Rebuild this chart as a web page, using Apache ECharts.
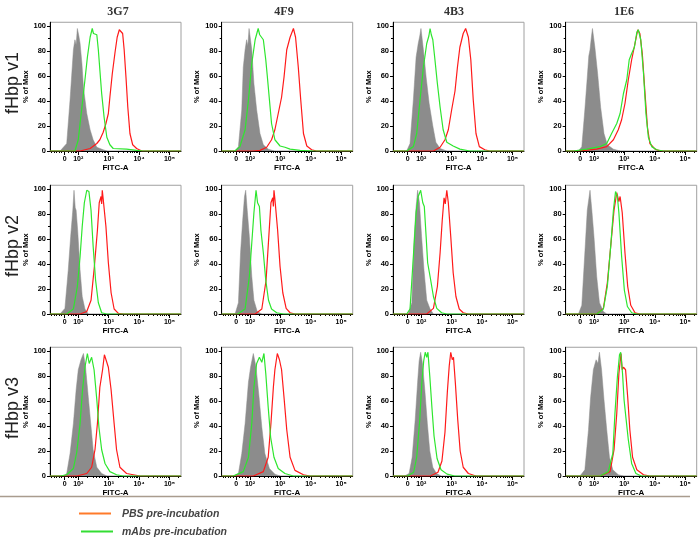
<!DOCTYPE html>
<html>
<head>
<meta charset="utf-8">
<script src="https://cdn.jsdelivr.net/npm/echarts@6/dist/echarts.min.js"></script>
<style>html,body{margin:0;padding:0;background:#fff}#c{width:698px;height:537px}</style>
</head>
<body>
<div id="c"></div>
<script>
// ---- Data (x in display decades: 0 at 1.55, 10^2 at 2, 10^3 at 3 ...; y in % of Max) ----
const columns = ['3G7', '4F9', '4B3', '1E6'];
const rows = ['fHbp v1', 'fHbp v2', 'fHbp v3'];
const xTickValues = [1.55, 2, 3, 4, 5];
const xTickLabels = ['0', '10²', '10³', '10⁴', '10⁵'];
const xMinorTicks = [1.12, 1.2, 1.28, 1.36, 1.44, 1.66, 1.76, 1.84, 1.9, 1.95,
  2.301, 2.477, 2.602, 2.699, 2.778, 2.845, 2.903, 2.954,
  3.301, 3.477, 3.602, 3.699, 3.778, 3.845, 3.903, 3.954,
  4.301, 4.477, 4.602, 4.699, 4.778, 4.845, 4.903, 4.954, 5.301];
const yTickValues = [0, 20, 40, 60, 80, 100];
const yMinorTicks = [10, 30, 50, 70, 90];
const legendLabels = ['PBS pre-incubation', 'mAbs pre-incubation'];

// fHbp v1
const gray_v1_3G7 = [[1.40,0],[1.62,6],[1.73,41],[1.84,81],[1.89,89],[1.93,85],[1.97,98],[2.02,92],[2.06,86],[2.12,70],[2.17,51],[2.28,30],[2.39,17],[2.49,9],[2.61,3],[2.82,1],[2.95,0]];
const green_v1_3G7 = [[1.89,0],[2.00,9],[2.11,33],[2.22,57],[2.30,75],[2.39,91],[2.44,96],[2.46,98],[2.50,94],[2.55,95],[2.61,93],[2.66,81],[2.71,65],[2.77,46],[2.85,27],[2.94,11],[3.04,5],[3.15,2],[3.59,1.5],[3.92,0.5],[4.14,0]];
const red_v1_3G7 = [[2.06,0],[2.39,2],[2.61,6],[2.71,9],[2.82,15],[2.91,22],[2.99,30],[3.04,43],[3.12,62],[3.21,79],[3.28,91],[3.35,97],[3.41,98],[3.46,94],[3.51,81],[3.57,59],[3.63,35],[3.70,14],[3.79,5],[3.92,2],[4.09,0]];
const gray_v1_4F9 = [[1.51,0],[1.62,3.5],[1.73,33],[1.78,67],[1.84,81],[1.89,89],[1.93,84],[1.97,98],[2.06,81],[2.13,54],[2.22,33],[2.33,14],[2.44,5],[2.60,1.5],[2.80,0]];
const green_v1_4F9 = [[1.50,0],[1.67,3.5],[1.84,17],[1.95,41],[2.06,70],[2.17,89],[2.27,98],[2.32,93],[2.36,92],[2.44,89],[2.52,73],[2.57,60],[2.64,41],[2.71,22],[2.82,9],[2.99,4],[3.15,3],[3.32,1.5],[3.65,0.5],[4.08,0]];
const red_v1_4F9 = [[2.10,0],[2.33,0.5],[2.55,3],[2.71,9],[2.82,17],[2.93,30],[3.04,43],[3.12,59],[3.21,81],[3.32,91],[3.43,98],[3.50,91],[3.59,67],[3.67,41],[3.76,14],[3.87,4],[4.03,1],[4.19,0]];
const gray_v1_4B3 = [[1.52,0],[1.63,6],[1.74,41],[1.83,75],[1.90,86],[1.95,92],[1.99,98],[2.07,81],[2.16,59],[2.26,38],[2.38,20],[2.48,7],[2.62,2],[2.84,0]];
const green_v1_4B3 = [[1.52,0],[1.74,3.5],[1.85,14],[1.96,41],[2.07,67],[2.18,86],[2.25,92],[2.29,98],[2.33,93],[2.38,89],[2.45,73],[2.53,54],[2.62,35],[2.72,17],[2.84,7],[3.05,4],[3.27,1.5],[3.60,0]];
const red_v1_4B3 = [[2.40,0],[2.62,3],[2.78,9],[2.89,17],[3.00,33],[3.11,48],[3.19,67],[3.27,83],[3.38,94],[3.46,98],[3.55,91],[3.63,73],[3.71,41],[3.80,14],[3.91,3.5],[4.09,1],[4.25,0]];
const gray_v1_1E6 = [[1.49,0],[1.60,3.5],[1.70,33],[1.78,59],[1.83,76],[1.87,81],[1.91,90],[1.95,98],[2.03,83],[2.12,62],[2.22,35],[2.33,14],[2.44,5],[2.64,1.5],[2.86,0]];
const green_v1_1E6 = [[1.32,0],[1.76,1.5],[2.20,3.5],[2.42,6],[2.58,14],[2.75,22],[2.86,30],[2.97,46],[3.08,57],[3.16,73],[3.24,78],[3.33,83],[3.41,95],[3.46,97],[3.54,89],[3.63,62],[3.71,30],[3.79,11],[3.90,3.5],[4.06,1],[4.28,0]];
const red_v1_1E6 = [[1.50,0],[2.09,1.5],[2.42,3.5],[2.64,9],[2.80,17],[2.91,25],[3.02,38],[3.13,57],[3.24,73],[3.35,86],[3.44,97],[3.51,94],[3.59,78],[3.68,46],[3.76,19],[3.84,6],[4.01,1.5],[4.17,0]];

// fHbp v2
const gray_v2_3G7 = [[1.40,0],[1.56,4.5],[1.67,35],[1.75,62],[1.82,83],[1.86,99],[1.90,85],[1.93,83],[1.98,67],[2.06,35],[2.13,14],[2.22,4],[2.33,0]];
const green_v2_3G7 = [[1.62,0],[1.84,4],[1.97,22],[2.06,46],[2.13,70],[2.20,89],[2.28,99],[2.35,98],[2.42,83],[2.49,54],[2.57,27],[2.66,9],[2.77,1],[2.94,0]];
const red_v2_3G7 = [[2.06,0],[2.28,2],[2.42,11],[2.53,38],[2.63,67],[2.69,89],[2.75,94],[2.77,88],[2.79,99],[2.82,92],[2.85,91],[2.91,70],[2.99,41],[3.08,17],[3.18,4],[3.32,0.5],[3.50,0]];
const gray_v2_4F9 = [[1.51,0],[1.62,9],[1.69,49],[1.76,75],[1.82,94],[1.86,99],[1.91,83],[1.98,62],[2.06,30],[2.13,11],[2.24,2],[2.39,0]];
const green_v2_4F9 = [[1.60,0],[1.84,4],[1.98,30],[2.06,57],[2.13,81],[2.20,99],[2.25,89],[2.31,86],[2.36,67],[2.44,49],[2.52,27],[2.61,11],[2.71,4],[2.88,1],[3.10,0]];
const red_v2_4F9 = [[2.17,0],[2.39,4],[2.53,27],[2.62,62],[2.69,89],[2.75,93],[2.77,86],[2.79,99],[2.82,92],[2.86,91],[2.91,67],[2.99,38],[3.08,17],[3.19,4.5],[3.32,1],[3.48,0]];
const gray_v2_4B3 = [[1.57,0],[1.69,9],[1.76,57],[1.82,83],[1.88,99],[1.94,89],[2.01,62],[2.09,35],[2.18,11],[2.29,4],[2.40,0]];
const green_v2_4B3 = [[1.52,0],[1.63,4],[1.74,46],[1.83,81],[1.90,94],[1.98,99],[2.05,89],[2.10,86],[2.16,62],[2.21,41],[2.29,30],[2.40,14],[2.51,4.5],[2.67,1],[2.84,0]];
const red_v2_4B3 = [[2.18,0],[2.40,4.5],[2.53,22],[2.62,49],[2.69,75],[2.75,93],[2.79,88],[2.84,99],[2.89,89],[2.97,62],[3.05,33],[3.14,14],[3.25,4],[3.38,1],[3.55,0]];
const gray_v2_1E6 = [[1.49,0],[1.60,7],[1.70,49],[1.78,83],[1.87,99],[1.93,83],[2.00,62],[2.09,30],[2.18,9],[2.31,2],[2.42,0]];
const green_v2_1E6 = [[2.09,0],[2.31,4],[2.44,22],[2.55,54],[2.64,83],[2.71,98],[2.77,94],[2.82,81],[2.91,46],[3.00,19],[3.10,6],[3.24,1],[3.41,0]];
const red_v2_1E6 = [[2.09,0],[2.31,4.5],[2.44,25],[2.55,54],[2.66,83],[2.75,97],[2.82,90],[2.86,94],[2.93,81],[3.02,49],[3.11,22],[3.21,7],[3.35,1],[3.51,0]];

// fHbp v3
const gray_v3_3G7 = [[1.51,0],[1.62,2],[1.73,18],[1.84,42],[1.93,69],[2.00,85],[2.09,93],[2.17,98],[2.24,87],[2.33,63],[2.41,42],[2.49,21],[2.61,7],[2.77,2],[2.94,0]];
const green_v3_3G7 = [[1.40,0],[1.62,1],[1.84,6],[1.95,19],[2.06,42],[2.14,69],[2.22,87],[2.30,98],[2.36,90],[2.44,95],[2.52,85],[2.61,61],[2.68,39],[2.77,21],[2.88,10],[3.04,3.5],[3.26,1],[3.48,0]];
const red_v3_3G7 = [[1.95,0],[2.28,2],[2.44,7],[2.55,21],[2.63,42],[2.71,71],[2.80,85],[2.86,97],[2.91,98],[2.99,87],[3.08,69],[3.18,42],[3.26,21],[3.37,7],[3.59,2],[3.81,1],[4.03,0]];
const gray_v3_4F9 = [[1.45,0],[1.62,2],[1.73,18],[1.84,42],[1.95,75],[2.02,87],[2.11,98],[2.20,87],[2.30,63],[2.39,39],[2.49,18],[2.64,6],[2.82,1.5],[2.99,0]];
const green_v3_4F9 = [[1.45,0],[1.78,3.5],[1.95,15],[2.06,42],[2.13,71],[2.22,90],[2.31,95],[2.39,91],[2.46,98],[2.52,82],[2.60,55],[2.68,31],[2.79,15],[2.93,6],[3.15,2],[3.43,0]];
const red_v3_4F9 = [[2.11,0],[2.44,3.5],[2.60,15],[2.69,42],[2.77,71],[2.82,85],[2.90,98],[2.97,93],[3.04,85],[3.12,63],[3.21,37],[3.32,15],[3.48,4.5],[3.76,1],[3.97,0]];
const gray_v3_4B3 = [[1.45,0],[1.60,2],[1.70,15],[1.80,45],[1.88,75],[1.93,92],[1.98,99],[2.04,90],[2.12,68],[2.20,42],[2.28,20],[2.38,7],[2.50,2],[2.65,0]];
const green_v3_4B3 = [[1.55,0],[1.75,3],[1.85,15],[1.95,45],[2.02,75],[2.08,92],[2.13,99],[2.18,95],[2.22,99],[2.28,80],[2.35,55],[2.42,32],[2.52,14],[2.65,5],[2.85,1.5],[3.10,0]];
const red_v3_4B3 = [[2.30,0],[2.55,3],[2.68,12],[2.78,35],[2.86,68],[2.92,88],[2.97,99],[3.02,93],[3.06,95],[3.12,75],[3.20,45],[3.28,20],[3.38,7],[3.55,2],[3.80,0]];
const gray_v3_1E6 = [[1.54,0],[1.70,5],[1.82,37],[1.89,63],[1.98,85],[2.07,93],[2.13,90],[2.18,99],[2.25,85],[2.33,61],[2.42,37],[2.51,15],[2.62,5],[2.80,1],[2.97,0]];
const green_v3_1E6 = [[2.20,0],[2.47,3.5],[2.62,18],[2.69,50],[2.77,79],[2.84,97],[2.88,99],[2.94,82],[2.99,61],[3.05,47],[3.13,29],[3.24,10],[3.38,2],[3.56,0]];
const red_v3_1E6 = [[2.20,0],[2.53,3.5],[2.66,21],[2.75,50],[2.82,82],[2.89,98],[2.93,85],[2.97,87],[3.04,85],[3.11,63],[3.18,37],[3.27,15],[3.41,5],[3.63,1],[3.84,0]];

// ---- Assemble ----
const grayData = [
  [gray_v1_3G7, gray_v1_4F9, gray_v1_4B3, gray_v1_1E6],
  [gray_v2_3G7, gray_v2_4F9, gray_v2_4B3, gray_v2_1E6],
  [gray_v3_3G7, gray_v3_4F9, gray_v3_4B3, gray_v3_1E6]];
const greenData = [
  [green_v1_3G7, green_v1_4F9, green_v1_4B3, green_v1_1E6],
  [green_v2_3G7, green_v2_4F9, green_v2_4B3, green_v2_1E6],
  [green_v3_3G7, green_v3_4F9, green_v3_4B3, green_v3_1E6]];
const redData = [
  [red_v1_3G7, red_v1_4F9, red_v1_4B3, red_v1_1E6],
  [red_v2_3G7, red_v2_4F9, red_v2_4B3, red_v2_1E6],
  [red_v3_3G7, red_v3_4F9, red_v3_4B3, red_v3_1E6]];

const X_MIN = 1.07, X_MAX = 5.38, Y_MAX = 103;
const colLeft = [50, 221.7, 393, 565.7];
const colTitleX = [118, 284, 454, 624];
const row100 = [26, 189, 351];
const PLOT_W = 131, PX_PER_PCT = 1.25;
const FONT = '"Liberation Sans", Arial, sans-serif';
const GRAY = '#8c8c8c', RED = '#ff1a1a', GREEN = '#2ee62e';

const withBaseline = d => [[X_MIN, 0]].concat(d, [[X_MAX, 0]]);

const grids = [], xAxes = [], yAxes = [], series = [];
let gi = 0;
for (let r = 0; r < 3; r++) {
  for (let c = 0; c < 4; c++) {
    const top = row100[r] - (Y_MAX - 100) * PX_PER_PCT;
    grids.push({left: colLeft[c], top: top, width: PLOT_W, height: Y_MAX * PX_PER_PCT,
      show: true, borderColor: '#a0a0a0', borderWidth: 1});
    xAxes.push({gridIndex: gi, type: 'value', min: X_MIN, max: X_MAX, position: 'bottom',
      axisLine: {show: true, onZero: false, lineStyle: {color: '#000', width: 1}},
      axisTick: {show: true, customValues: xTickValues, length: 4, lineStyle: {color: '#000'}},
      axisLabel: {customValues: xTickValues, fontSize: 7, fontWeight: 'bold', color: '#000', margin: 5, fontFamily: FONT,
        formatter: v => { const i = xTickValues.findIndex(t => Math.abs(t - v) < 1e-6); return i >= 0 ? xTickLabels[i] : ''; }},
      splitLine: {show: false},
      name: 'FITC-A', nameLocation: 'middle', nameGap: 13,
      nameTextStyle: {fontSize: 8, fontWeight: 'bold', color: '#000', fontFamily: FONT}});
    xAxes.push({gridIndex: gi, type: 'value', min: X_MIN, max: X_MAX, position: 'bottom',
      axisLine: {show: false, onZero: false},
      axisTick: {show: true, customValues: xMinorTicks, length: 2, lineStyle: {color: '#000'}},
      axisLabel: {show: false}, splitLine: {show: false}});
    yAxes.push({gridIndex: gi, type: 'value', min: 0, max: Y_MAX, position: 'left',
      axisLine: {show: true, lineStyle: {color: '#000', width: 1}},
      axisTick: {show: true, customValues: yTickValues, length: 3, lineStyle: {color: '#000'}},
      axisLabel: {customValues: yTickValues, fontSize: 7.5, fontWeight: 'bold', color: '#000', margin: 4, fontFamily: FONT},
      splitLine: {show: false},
      name: '% of Max', nameLocation: 'middle', nameGap: 20, nameRotate: 90,
      nameTextStyle: {fontSize: 7.5, fontWeight: 'bold', color: '#000', fontFamily: FONT}});
    yAxes.push({gridIndex: gi, type: 'value', min: 0, max: Y_MAX, position: 'left',
      axisLine: {show: false},
      axisTick: {show: true, customValues: yMinorTicks, length: 2, lineStyle: {color: '#000'}},
      axisLabel: {show: false}, splitLine: {show: false}});
    const common = {type: 'line', xAxisIndex: 2 * gi, yAxisIndex: 2 * gi, showSymbol: false, symbol: 'none', animation: false, silent: true};
    series.push(Object.assign({}, common, {data: grayData[r][c],
      lineStyle: {color: GRAY, width: 0.5}, areaStyle: {color: GRAY, opacity: 1}}));
    series.push(Object.assign({}, common, {data: withBaseline(redData[r][c]),
      lineStyle: {color: RED, width: 1.2}}));
    series.push(Object.assign({}, common, {data: withBaseline(greenData[r][c]),
      lineStyle: {color: GREEN, width: 1.2}}));
    gi++;
  }
}

const graphic = [];
columns.forEach((t, c) => graphic.push({type: 'text', x: colTitleX[c], y: 12,
  style: {text: t, font: 'bold 12px "Liberation Serif", "Times New Roman", serif', fill: '#333', textAlign: 'center', textVerticalAlign: 'middle'}}));
rows.forEach((t, r) => graphic.push({type: 'text', x: 13, y: row100[r] + 57, rotation: Math.PI / 2,
  style: {text: t, font: '18px ' + FONT, fill: '#222', textAlign: 'center', textVerticalAlign: 'middle'}}));
graphic.push({type: 'line', shape: {x1: 0, y1: 496.5, x2: 690, y2: 496.5}, style: {stroke: '#a99c8e', lineWidth: 1.5}});
graphic.push({type: 'line', shape: {x1: 79, y1: 513.5, x2: 111, y2: 513.5}, style: {stroke: '#ff7a2a', lineWidth: 2}});
graphic.push({type: 'line', shape: {x1: 81, y1: 531.5, x2: 113, y2: 531.5}, style: {stroke: '#33dd33', lineWidth: 2}});
graphic.push({type: 'text', x: 122, y: 514, style: {text: legendLabels[0], font: 'italic bold 10.5px ' + FONT, fill: '#444', textAlign: 'left', textVerticalAlign: 'middle'}});
graphic.push({type: 'text', x: 122, y: 532, style: {text: legendLabels[1], font: 'italic bold 10.5px ' + FONT, fill: '#444', textAlign: 'left', textVerticalAlign: 'middle'}});

const chart = echarts.init(document.getElementById('c'), null, {renderer: 'canvas'});
chart.setOption({animation: false, backgroundColor: '#fff', grid: grids, xAxis: xAxes, yAxis: yAxes, series: series, graphic: graphic});
</script>
</body>
</html>
